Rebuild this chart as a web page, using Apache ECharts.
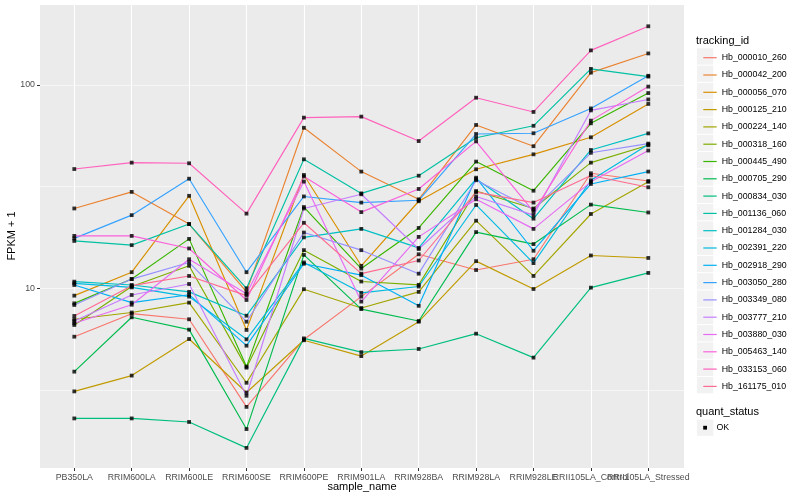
<!DOCTYPE html>
<html><head><meta charset="utf-8">
<script src="https://cdn.jsdelivr.net/npm/echarts@6/dist/echarts.min.js"></script>
<style>html,body{margin:0;padding:0;background:#fff}#c{width:800px;height:500px}</style>
</head><body><div id="c"></div>
<script>
const categories = ["PB350LA","RRIM600LA","RRIM600LE","RRIM600SE","RRIM600PE","RRIM901LA","RRIM928BA","RRIM928LA","RRIM928LE","RRII105LA_Control","RRII105LA_Stressed"];
const trackingIds = ["Hb_000010_260","Hb_000042_200","Hb_000056_070","Hb_000125_210","Hb_000224_140","Hb_000318_160","Hb_000445_490","Hb_000705_290","Hb_000834_030","Hb_001136_060","Hb_001284_030","Hb_002391_220","Hb_002918_290","Hb_003050_280","Hb_003349_080","Hb_003777_210","Hb_003880_030","Hb_005463_140","Hb_033153_060","Hb_161175_010"];
const colors = ["#F8766D","#EA8331","#D89000","#C09B00","#A3A500","#7CAE00","#39B600","#00BB4E","#00BF7D","#00C1A3","#00BFC4","#00BAE0","#00B0F6","#35A2FF","#9590FF","#C77CFF","#E76BF3","#FA62DB","#FF62BC","#FF6C91"];

const Hb_000010_260 = [5.78, 7.5, 7.04, 2.61, 5.6, 9.1, 14.7, 12.3, 13.9, 36.8, 33.7];
const Hb_000042_200 = [24.7, 29.8, 20.7, 9.6, 61.6, 37.5, 27.4, 63.6, 50, 115, 143];
const Hb_000056_070 = [9.2, 12.0, 28.5, 6.24, 36.1, 12.9, 26.8, 38.5, 45.6, 55.3, 80.7];
const Hb_000125_210 = [3.11, 3.72, 5.63, 3.07, 5.55, 4.64, 6.85, 13.6, 9.92, 14.5, 14.1];
const Hb_000224_140 = [7.04, 7.6, 8.5, 3.43, 9.9, 8.0, 9.6, 21.5, 11.5, 23.2, 33.4];
const Hb_000318_160 = [6.6, 10.2, 12.9, 4.07, 15.4, 10.8, 10.4, 30.1, 24.7, 41.5, 50.5];
const Hb_000445_490 = [8.43, 11.1, 17.5, 4.12, 25.1, 12.5, 19.8, 42, 30.2, 64.8, 91.3];
const Hb_000705_290 = [3.89, 7.2, 6.26, 2.03, 14.6, 7.9, 6.9, 18.9, 16.5, 25.8, 23.6];
const Hb_000834_030 = [2.29, 2.29, 2.2, 1.64, 5.67, 4.85, 5.03, 5.98, 4.56, 10.07, 11.9];
const Hb_001136_060 = [17.1, 16.3, 20.7, 10.0, 43.1, 29.3, 35.8, 55, 63, 120, 110];
const Hb_001284_030 = [10.78, 10.38, 9.6, 7.33, 17.8, 19.6, 15.8, 34.5, 22, 47.9, 57.8];
const Hb_002391_220 = [10.58, 10.1, 9.1, 5.61, 13.4, 9.5, 10.2, 25.7, 13.3, 34.0, 51];
const Hb_002918_290 = [10.38, 8.5, 9.3, 5.22, 13.2, 11.6, 8.2, 35, 15.3, 32.6, 37.5];
const Hb_003050_280 = [17.6, 22.9, 34.6, 12.0, 28.3, 26.4, 27.1, 57.4, 57.9, 76.7, 111];
const Hb_003349_080 = [8.28, 11.1, 13.4, 6.85, 18.8, 15.4, 11.8, 34, 24.4, 46.4, 51.5];
const Hb_003777_210 = [6.9, 9.27, 10.5, 2.96, 24.7, 29.0, 15.6, 28.3, 22.9, 75, 84.9];
const Hb_003880_030 = [6.73, 8.3, 13.9, 9.4, 33.5, 8.6, 17.9, 27.4, 19.6, 33.4, 47.6];
const Hb_005463_140 = [18.1, 18.1, 15.7, 8.76, 35.5, 23.7, 30.8, 52.8, 23.8, 66.8, 98.2];
const Hb_033153_060 = [38.6, 41.5, 41.2, 23.3, 69.1, 69.9, 53.0, 86.6, 73.7, 148, 194.5];
const Hb_161175_010 = [7.31, 10.3, 11.5, 9.2, 21, 11.8, 13.7, 29.7, 26.4, 35.9, 31.4];

const seriesValues = [Hb_000010_260, Hb_000042_200, Hb_000056_070, Hb_000125_210, Hb_000224_140, Hb_000318_160, Hb_000445_490, Hb_000705_290, Hb_000834_030, Hb_001136_060, Hb_001284_030, Hb_002391_220, Hb_002918_290, Hb_003050_280, Hb_003349_080, Hb_003777_210, Hb_003880_030, Hb_005463_140, Hb_033153_060, Hb_161175_010];
const yTickLabels = [10, 100];
const yMin = 1.306, yMax = 247.5;

const FONT = '"Liberation Sans", Arial, Helvetica, sans-serif';
const chart = echarts.init(document.getElementById('c'), null, {renderer: 'canvas'});

const lineSeries = seriesValues.map((vals, i) => ({
  name: trackingIds[i], type: 'line', xAxisIndex: 1, yAxisIndex: 2,
  data: vals, symbol: 'none', showSymbol: false, silent: true, z: 2,
  lineStyle: {color: colors[i], width: 1.15}, itemStyle: {color: colors[i]}
}));
const points = [];
seriesValues.forEach(vals => vals.forEach((v, j) => points.push([j, v])));

const keyRects = [];
trackingIds.forEach((n, i) => {
  keyRects.push({type: 'rect', left: 697, top: 48.3 + 17.3 * i, z: 0,
    shape: {width: 16.3, height: 16.3}, style: {fill: '#F2F2F2'}});
});
keyRects.push({type: 'rect', left: 697, top: 419.5, shape: {width: 16.3, height: 16.3}, style: {fill: '#F2F2F2'}, z: 0});
keyRects.push({type: 'rect', left: 703.2, top: 425.8, shape: {width: 3.8, height: 3.8}, style: {fill: '#000'}, z: 1});

chart.setOption({
  animation: false,
  backgroundColor: '#fff',
  grid: [
    {left: 40, right: 116, top: 5, bottom: 32, show: true, backgroundColor: '#EBEBEB', borderWidth: 0},
    {left: 74.3, right: 151.7, top: 5, bottom: 32}
  ],
  xAxis: [
    {gridIndex: 0, type: 'value', min: 0, max: 1, show: false},
    {gridIndex: 1, type: 'category', data: categories, boundaryGap: false,
     axisLine: {show: false},
     axisTick: {show: true, length: 3, lineStyle: {color: '#333333', width: 1}},
     axisLabel: {interval: 0, fontSize: 8.8, color: '#4D4D4D', margin: 5, fontFamily: FONT},
     splitLine: {show: true, lineStyle: {color: '#FFFFFF', width: 1.1}}}
  ],
  yAxis: [
    {gridIndex: 0, type: 'log', logBase: 10, min: yMin, max: yMax,
     axisLine: {show: false},
     axisTick: {show: true, length: 3, customValues: yTickLabels, lineStyle: {color: '#333333'}},
     axisLabel: {fontSize: 8.8, color: '#4D4D4D', margin: 5, fontFamily: FONT, customValues: yTickLabels,
       formatter: v => String(Math.round(v))},
     splitLine: {show: true, showMinLine: false, showMaxLine: false, lineStyle: {color: '#FFFFFF', width: 1.1}}},
    {gridIndex: 0, type: 'log', logBase: Math.sqrt(10), min: yMin, max: yMax,
     axisLine: {show: false}, axisTick: {show: false}, axisLabel: {show: false},
     splitLine: {show: true, showMinLine: false, showMaxLine: false, lineStyle: {color: '#FFFFFF', width: 0.55}}},
    {gridIndex: 1, type: 'log', logBase: 10, min: yMin, max: yMax, show: false}
  ],
  legend: {
    orient: 'vertical', left: 698.3, top: 45.7, selectedMode: false,
    itemWidth: 13.4, itemHeight: 1.2, itemGap: 3.3,
    textStyle: {fontSize: 8.8, color: '#000', fontFamily: FONT, lineHeight: 14},
    data: trackingIds.map((n, i) => ({name: n, icon: 'rect', itemStyle: {color: colors[i]}}))
  },
  graphic: keyRects.concat([
    {type: 'text', left: 696, top: 35.5, z: 5, style: {text: 'tracking_id', fontSize: 11, fill: '#000', fontFamily: FONT}},
    {type: 'text', left: 696, top: 406.5, z: 5, style: {text: 'quant_status', fontSize: 11, fill: '#000', fontFamily: FONT}},
    {type: 'text', left: 716.5, top: 423.5, z: 5, style: {text: 'OK', fontSize: 8.8, fill: '#000', fontFamily: FONT}},
    {type: 'text', x: 362, y: 487, z: 5, style: {text: 'sample_name', fontSize: 11, fill: '#000', fontFamily: FONT, align: 'center', verticalAlign: 'middle'}},
    {type: 'text', x: 12, y: 236, rotation: Math.PI / 2, z: 5, style: {text: 'FPKM + 1', fontSize: 11, fill: '#000', fontFamily: FONT, align: 'center', verticalAlign: 'middle'}}
  ]),
  series: lineSeries.concat([{
    name: 'OK', type: 'scatter', xAxisIndex: 1, yAxisIndex: 2, data: points,
    symbol: 'rect', symbolSize: 3.8, itemStyle: {color: '#000'}, z: 3, silent: true
  }])
});
</script></body></html>
